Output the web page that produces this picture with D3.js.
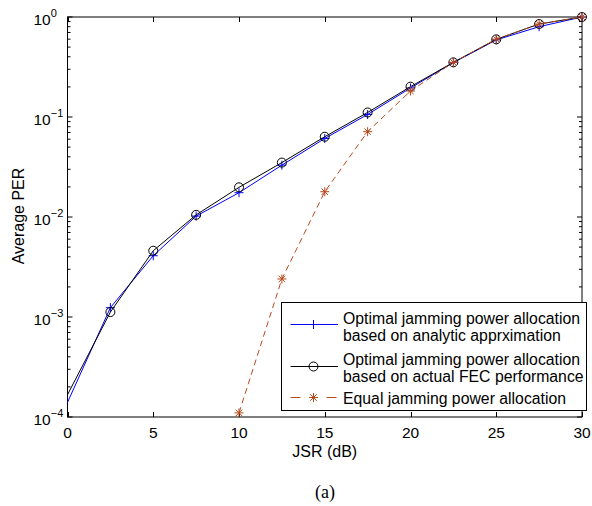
<!DOCTYPE html>
<html>
<head>
<meta charset="utf-8">
<script src="https://cdn.jsdelivr.net/npm/d3@7/dist/d3.min.js"></script>
<style>
  html, body { margin: 0; padding: 0; background: #fff; }
  svg { display: block; }
  text { font-family: "Liberation Sans", Arial, Helvetica, sans-serif; fill: #000; }
</style>
</head>
<body>
<svg id="chart" width="592" height="506"></svg>
<script>
// JSR sweep (dB)
const jsr = [0, 2.5, 5, 7.5, 10, 12.5, 15, 17.5, 20, 22.5, 25, 27.5, 30];

// Average PER for each jamming power allocation strategy
const perAnalytic = [1.4e-4, 1.24e-3, 4.1e-3, 1.02e-2, 1.75e-2, 3.3e-2, 6.1e-2, 0.106, 0.195, 0.35, 0.59, 0.80, 1.0];
const perActualFec = [1.67e-4, 1.12e-3, 4.6e-3, 1.05e-2, 1.98e-2, 3.5e-2, 6.35e-2, 0.111, 0.201, 0.352, 0.598, 0.851, 1.0];
const jsrEqual = [10, 12.5, 15, 17.5, 20, 22.5, 25, 27.5, 30];
const perEqual = [1.1e-4, 2.4e-3, 1.79e-2, 0.0713, 0.182, 0.352, 0.60, 0.851, 1.0];

const xTicks = [0, 5, 10, 15, 20, 25, 30];
const yDecades = [0, -1, -2, -3, -4];

const legendLabels = [
  ["Optimal jamming power allocation", "based on analytic apprximation"],
  ["Optimal jamming power allocation", "based on actual FEC performance"],
  ["Equal jamming power allocation"]
];

const blue = "#0000ff", black = "#000000", rust = "#b84a1c";

const svg = d3.select("#chart");
const plot = { left: 67.5, right: 582, top: 17, bottom: 417 };

const x = d3.scaleLinear().domain([0, 30]).range([plot.left, plot.right]);
const y = d3.scaleLog().domain([1e-4, 1]).range([plot.bottom, plot.top]);

// Frame
svg.append("rect")
  .attr("x", plot.left).attr("y", plot.top)
  .attr("width", plot.right - plot.left).attr("height", plot.bottom - plot.top)
  .attr("fill", "none").attr("stroke", "#000").attr("stroke-width", 1);

// Inward ticks on all four sides
const ticks = svg.append("g").attr("stroke", "#000").attr("stroke-width", 1);
xTicks.forEach(t => {
  const px = Math.round(x(t)) + 0.5;
  ticks.append("line").attr("x1", px).attr("x2", px).attr("y1", plot.bottom).attr("y2", plot.bottom - 5);
  ticks.append("line").attr("x1", px).attr("x2", px).attr("y1", plot.top).attr("y2", plot.top + 5);
});
const minorVals = [];
yDecades.forEach(d => {
  if (d < 0) for (let m = 2; m <= 9; m++) minorVals.push(m * Math.pow(10, d));
});
yDecades.forEach(d => {
  const py = y(Math.pow(10, d));
  ticks.append("line").attr("x1", plot.left).attr("x2", plot.left + 5).attr("y1", py).attr("y2", py);
  ticks.append("line").attr("x1", plot.right).attr("x2", plot.right - 5).attr("y1", py).attr("y2", py);
});
minorVals.forEach(v => {
  const py = y(v);
  ticks.append("line").attr("x1", plot.left).attr("x2", plot.left + 3).attr("y1", py).attr("y2", py);
  ticks.append("line").attr("x1", plot.right).attr("x2", plot.right - 3).attr("y1", py).attr("y2", py);
});

// X tick labels
svg.append("g").selectAll("text").data(xTicks).join("text")
  .attr("x", d => x(d)).attr("y", 438)
  .attr("text-anchor", "middle").attr("font-size", 15.5)
  .text(d => d);

// Y tick labels: 10 with superscript exponent
const yl = svg.append("g");
yDecades.forEach(d => {
  const py = y(Math.pow(10, d));
  const t = yl.append("text").attr("x", 33.5).attr("y", py + 7.5).attr("font-size", 15.5);
  t.append("tspan").text("10");
  t.append("tspan").attr("font-size", 11).attr("dy", -7.5).text(d === 0 ? "0" : "\u2212" + (-d));
});

// Axis titles
svg.append("text").attr("x", (plot.left + plot.right) / 2).attr("y", 457)
  .attr("text-anchor", "middle").attr("font-size", 16).text("JSR (dB)");
svg.append("text").attr("transform", "translate(23.5,216) rotate(-90)")
  .attr("text-anchor", "middle").attr("font-size", 16).text("Average PER");
svg.append("text").attr("x", 325).attr("y", 498)
  .attr("text-anchor", "middle").attr("font-size", 18)
  .style("font-family", "'Liberation Serif', 'Times New Roman', serif").text("(a)");

// Series
const lineGen = d3.line().x(d => x(d[0])).y(d => y(d[1]));
const series = [
  { xs: jsr, ys: perAnalytic, color: blue, marker: "plus", dash: null, skipFirst: true },
  { xs: jsr, ys: perActualFec, color: black, marker: "circle", dash: null, skipFirst: true },
  { xs: jsrEqual, ys: perEqual, color: rust, marker: "star", dash: "6,4", skipFirst: false }
];

function drawMarker(g, kind, cx, cy, color) {
  if (kind === "plus") {
    g.append("path").attr("d", `M${cx - 4.5},${cy}H${cx + 4.5}M${cx},${cy - 4.5}V${cy + 4.5}`)
      .attr("stroke", color).attr("stroke-width", 1).attr("fill", "none");
  } else if (kind === "circle") {
    g.append("circle").attr("cx", cx).attr("cy", cy).attr("r", 4.5)
      .attr("stroke", color).attr("stroke-width", 1).attr("fill", "none");
  } else {
    const r = 4.5, dd = r * 0.72;
    g.append("path").attr("d",
      `M${cx - r},${cy}H${cx + r}M${cx},${cy - r}V${cy + r}` +
      `M${cx - dd},${cy - dd}L${cx + dd},${cy + dd}M${cx - dd},${cy + dd}L${cx + dd},${cy - dd}`)
      .attr("stroke", color).attr("stroke-width", 1).attr("fill", "none");
  }
}

const marks = svg.append("g");
series.forEach(s => {
  const pts = s.xs.map((v, i) => [v, s.ys[i]]);
  marks.append("path").datum(pts)
    .attr("d", lineGen)
    .attr("fill", "none").attr("stroke", s.color).attr("stroke-width", 1)
    .attr("stroke-dasharray", s.dash);
  const mg = marks.append("g");
  pts.forEach((p, i) => {
    if (s.skipFirst && i === 0) return;
    drawMarker(mg, s.marker, x(p[0]), y(p[1]), s.color);
  });
});

// Legend
const lg = svg.append("g");
const box = { x: 281.5, y: 302.5, w: 305, h: 108 };
lg.append("rect").attr("x", box.x).attr("y", box.y).attr("width", box.w).attr("height", box.h)
  .attr("fill", "#fff").attr("stroke", "#000").attr("stroke-width", 1);
const rows = [
  { sampleY: 324.5, textY: [323.5, 340.5] },
  { sampleY: 366.5, textY: [364.5, 381.5] },
  { sampleY: 397.5, textY: [403.5] }
];
series.forEach((s, i) => {
  const r = rows[i];
  if (s.dash) {
    lg.append("path").attr("d", `M290.5,${r.sampleY}H300.5M326.5,${r.sampleY}H336.5`)
      .attr("stroke", s.color).attr("stroke-width", 1);
  } else {
    lg.append("line").attr("x1", 290.5).attr("x2", 338).attr("y1", r.sampleY).attr("y2", r.sampleY)
      .attr("stroke", s.color).attr("stroke-width", 1);
  }
  drawMarker(lg, s.marker, 313.5, r.sampleY, s.color);
  legendLabels[i].forEach((txt, j) => {
    lg.append("text").attr("x", 343).attr("y", r.textY[j]).attr("font-size", 15.8).text(txt);
  });
});
</script>
</body>
</html>
